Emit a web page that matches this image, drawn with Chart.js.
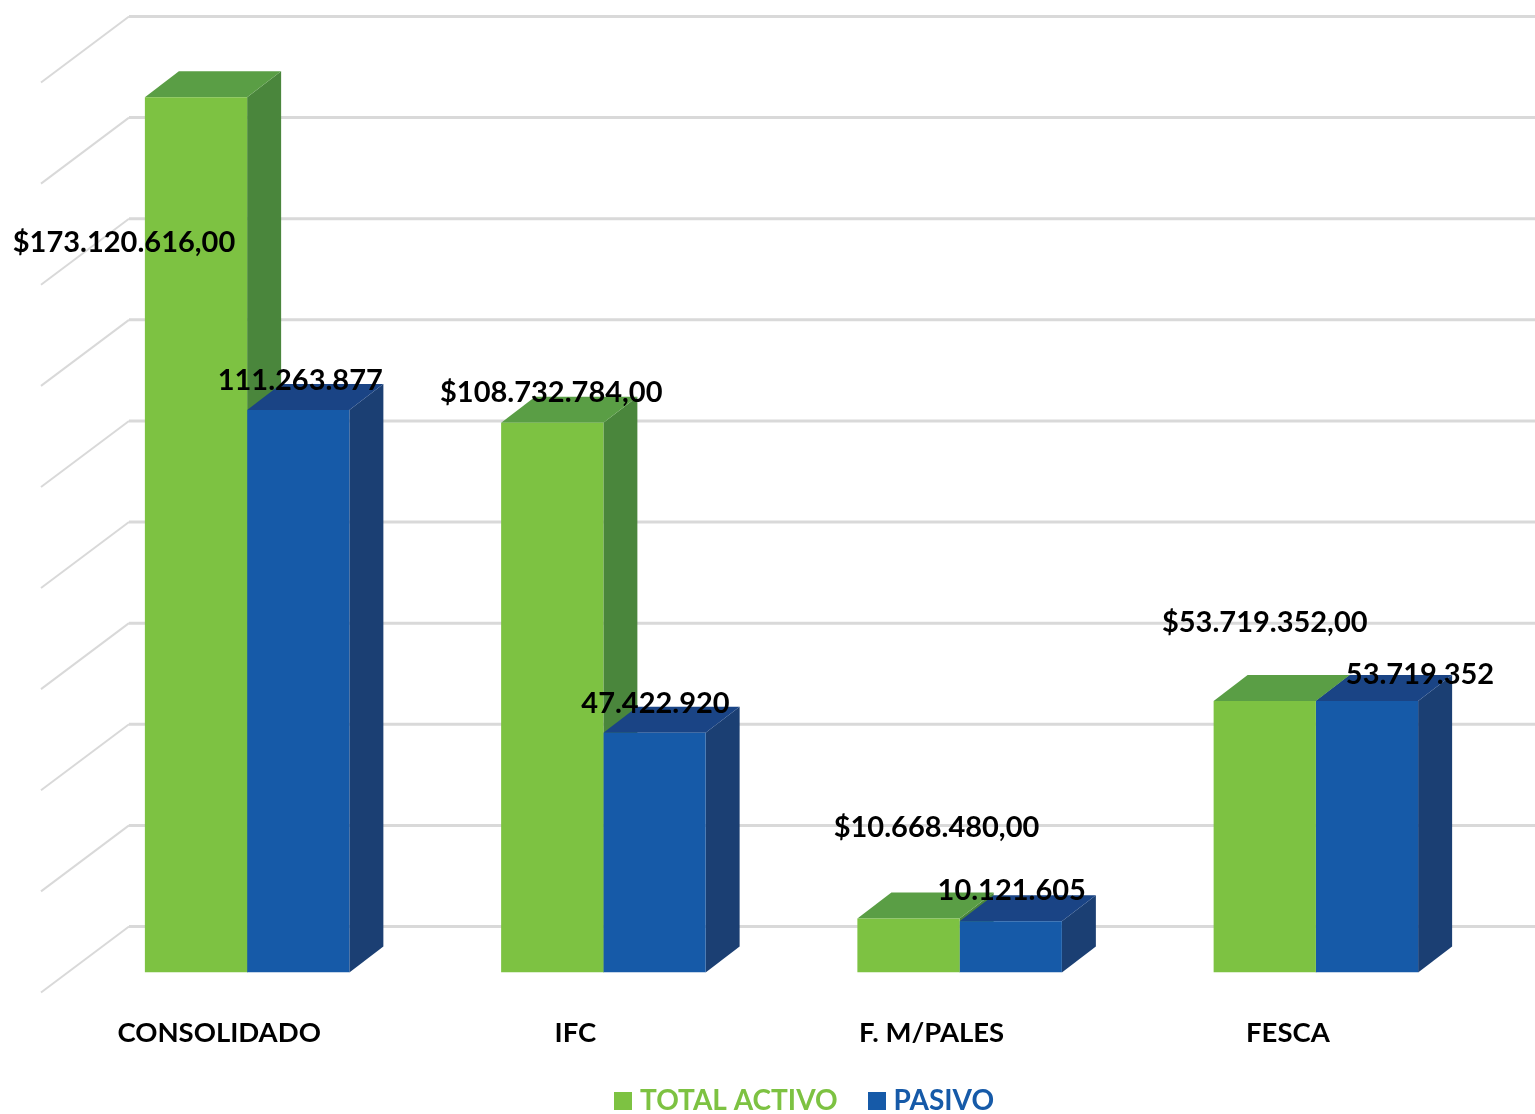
<!DOCTYPE html>
<html>
<head>
<meta charset="utf-8">
<title>Total activo y pasivo</title>
<script src="https://cdn.jsdelivr.net/npm/chart.js@4"></script>
<style>
    html, body { margin: 0; padding: 0; background: #fff; }
    canvas { display: block; }
</style>
</head>
<body>
<canvas id="chart" width="1535" height="1114"></canvas>
<script>
const categories = ['CONSOLIDADO', 'IFC', 'F. M/PALES', 'FESCA'];
const totalActivo = [173120616, 108732784, 10668480, 53719352];
const pasivo = [111263877, 47422920, 10121605, 53719352];
const axisMax = 180000000;
const axisStep = 20000000;

// the value labels sit wherever they were dragged to in the original, relative to the bar top
const activoLabelShift = [[-72, 145], [-1, -30], [28, -91], [0, -78]];
const pasivoLabelShift = [[2, -29], [1, -29], [1, -31], [53, -26]];

const GREEN = { front: '#7DC242', side: '#4A863C', top: '#5A9E45' };
const BLUE = { front: '#165AA8', side: '#1B3F73', top: '#1A4485' };
const DEPTH_X = 34;
const DEPTH_Y = 26;
const FONT = '"Lato", "Open Sans", sans-serif';

function moneyLabel(value) {
    return '$' + value.toLocaleString('de-DE') + ',00';
}

function plainLabel(value) {
    return value.toLocaleString('de-DE');
}

function polygon(ctx, points, color) {
    ctx.fillStyle = color;
    ctx.beginPath();
    points.forEach(([x, y], i) => (i ? ctx.lineTo(x, y) : ctx.moveTo(x, y)));
    ctx.closePath();
    ctx.fill();
}

// legend square as a small canvas, so the text can sit closer than the default gap
function swatch(color) {
    const box = document.createElement('canvas');
    box.width = 18;
    box.height = 18;
    const boxCtx = box.getContext('2d');
    boxCtx.fillStyle = color;
    boxCtx.fillRect(0, 0, 18, 18);
    return box;
}

const wallPlugin = {
    id: 'wall',
    afterLayout(chart) {
        // legend is centred on the plot in the original, a bit right of the page
        chart.legend.left += 25.5;
        chart.legend.right += 25.5;
        chart.legend.top += 11;
        chart.legend.bottom += 11;
        // x scale was shortened in afterFit, give the labels their room back
        chart.scales.x.bottom += 60;
    },
    beforeDatasetsDraw(chart) {
        const { ctx, scales } = chart;
        ctx.save();
        ctx.strokeStyle = '#D9D9D9';
        scales.y.ticks.forEach((tick) => {
            const y = scales.y.getPixelForValue(tick.value) - 46;
            ctx.lineWidth = 3;
            ctx.beginPath();
            ctx.moveTo(129, y);
            ctx.lineTo(chart.width, y);
            ctx.stroke();
            ctx.lineWidth = 2;
            ctx.beginPath();
            ctx.moveTo(129, y);
            ctx.lineTo(41, y + 66);
            ctx.stroke();
        });

        // sides and tops of the boxes, the fronts are the normal bars
        chart.data.datasets.forEach((dataset, d) => {
            const colors = d === 0 ? GREEN : BLUE;
            chart.getDatasetMeta(d).data.forEach((bar) => {
                const left = bar.x - bar.width / 2;
                const right = bar.x + bar.width / 2;
                polygon(ctx, [[right, bar.y], [right + DEPTH_X, bar.y - DEPTH_Y], [right + DEPTH_X, bar.base - DEPTH_Y], [right, bar.base]], colors.side);
                polygon(ctx, [[left, bar.y], [left + DEPTH_X, bar.y - DEPTH_Y], [right + DEPTH_X, bar.y - DEPTH_Y], [right, bar.y]], colors.top);
            });
        });
        ctx.restore();
    },
    afterDatasetsDraw(chart) {
        const { ctx } = chart;
        ctx.save();
        ctx.font = 'bold 29px ' + FONT;
        ctx.fillStyle = '#000';
        ctx.textAlign = 'center';
        ctx.textBaseline = 'middle';
        chart.getDatasetMeta(0).data.forEach((bar, i) => {
            const [dx, dy] = activoLabelShift[i];
            ctx.fillText(moneyLabel(totalActivo[i]), bar.x + dx, bar.y + dy);
        });
        chart.getDatasetMeta(1).data.forEach((bar, i) => {
            const [dx, dy] = pasivoLabelShift[i];
            ctx.fillText(plainLabel(pasivo[i]), bar.x + dx, bar.y + dy);
        });
        ctx.restore();
    }
};

new Chart(document.getElementById('chart'), {
    type: 'bar',
    data: {
        labels: categories,
        datasets: [
            { label: 'TOTAL ACTIVO', data: totalActivo, backgroundColor: GREEN.front, borderWidth: 0 },
            { label: 'PASIVO', data: pasivo, backgroundColor: BLUE.front, borderWidth: 0 }
        ]
    },
    options: {
        responsive: false,
        animation: false,
        layout: { padding: { left: 69, right: 41, top: 62.5, bottom: 0 } },
        plugins: {
            title: { display: false },
            tooltip: { enabled: false },
            legend: {
                position: 'bottom',
                labels: {
                    usePointStyle: true,
                    pointStyleWidth: 6,
                    padding: 36,
                    font: { family: FONT, size: 28, weight: 'bold' },
                    generateLabels(chart) {
                        return chart.data.datasets.map((dataset, i) => ({
                            text: dataset.label,
                            fillStyle: dataset.backgroundColor,
                            fontColor: dataset.backgroundColor,
                            pointStyle: swatch(dataset.backgroundColor),
                            lineWidth: 0,
                            strokeStyle: 'transparent',
                            datasetIndex: i
                        }));
                    }
                }
            }
        },
        scales: {
            x: {
                grid: { display: false },
                border: { display: false },
                afterFit(scale) {
                    scale.height -= 46.5;
                },
                ticks: {
                    color: '#000',
                    padding: 36.5,
                    labelOffset: -28,
                    maxRotation: 0,
                    font: { family: FONT, size: 27.5, weight: 'bold' }
                }
            },
            y: {
                display: false,
                min: 0,
                max: axisMax,
                ticks: { stepSize: axisStep }
            }
        },
        datasets: {
            bar: { categoryPercentage: 0.574, barPercentage: 1 }
        }
    },
    plugins: [wallPlugin]
});
</script>
</body>
</html>
